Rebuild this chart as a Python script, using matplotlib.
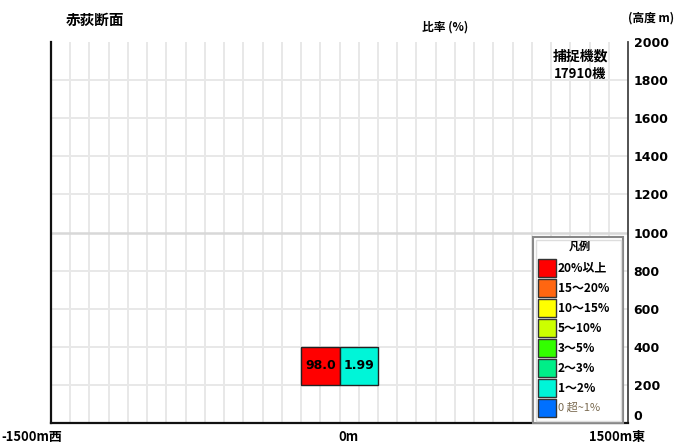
import matplotlib
matplotlib.use("Agg")
import matplotlib.pyplot as plt
from matplotlib.patches import Rectangle

plt.rcParams['font.family'] = ['Noto Sans CJK JP', 'DejaVu Sans']

# ---- data ----
title = "赤荻断面"
bin_x_start = [-200, 0]          # m (west negative)
bin_alt_bottom = [200, 200]      # m
bin_ratio = [98.0, 1.99]         # %
bin_labels = ["98.0", "1.99"]
bin_size_x = 200
bin_size_alt = 200
capture_count = 17910
y_ticks = [0, 200, 400, 600, 800, 1000, 1200, 1400, 1600, 1800, 2000]
x_tick_vals = [-1500, 0, 1500]
x_tick_labels = ["-1500m西", "0m", "1500m東"]
legend_labels = ["20%以上", "15～20%", "10～15%", "5～10%", "3～5%", "2～3%", "1～2%", "0 超~1%"]
legend_thresholds = [20, 15, 10, 5, 3, 2, 1, 0]
legend_colors = ["#FF0000", "#FF6611", "#FFFF00", "#CCFF00", "#33FF00",
                 "#00EE88", "#00F5D8", "#0070FF"]


def color_for(r):
    for t, c in zip(legend_thresholds, legend_colors):
        if r >= t:
            return c
    return legend_colors[-1]


W, H = 687, 445
fig = plt.figure(figsize=(W / 100, H / 100), dpi=100)
L, R, T, B = 51, 628, 42, 423
ax = fig.add_axes([L / W, 1 - B / H, (R - L) / W, (B - T) / H])
ax.set_xlim(-1500, 1500)
ax.set_ylim(0, 2000)

# grid
for x in range(-1400, 1500, 100):
    ax.axvline(x, color="#e8e8e8", lw=1.4, zorder=0)
for y in y_ticks[1:-1]:
    ax.axhline(y, color="#d8d8d8" if y == 1000 else "#e8e8e8",
               lw=1.8 if y == 1000 else 1.4, zorder=0)

ax.spines["top"].set_visible(False)
ax.spines["left"].set_color("#111111")
ax.spines["left"].set_linewidth(1.6)
ax.spines["bottom"].set_color("#111111")
ax.spines["bottom"].set_linewidth(1.6)
ax.spines["right"].set_color("#444444")
ax.spines["right"].set_linewidth(1.3)
ax.set_xticks([])
ax.yaxis.tick_right()
ax.set_yticks(y_ticks)
ax.set_yticklabels([str(v) for v in y_ticks], fontsize=9, fontweight="bold",
                   family=["DejaVu Sans"])
ax.tick_params(axis="y", length=0, pad=4)
ax.get_yticklabels()[0].set_va("bottom")

# bars
for x0, y0, r, lab in zip(bin_x_start, bin_alt_bottom, bin_ratio, bin_labels):
    ax.add_patch(Rectangle((x0, y0), bin_size_x, bin_size_alt,
                           facecolor=color_for(r), edgecolor="#222222", lw=1.0, zorder=3))
    ax.text(x0 + bin_size_x / 2, y0 + bin_size_alt / 2, lab, ha="center", va="center",
            fontsize=9, fontweight="bold", zorder=4, family=["DejaVu Sans"])

# overlay in pixel coordinates
ov = fig.add_axes([0, 0, 1, 1])
ov.set_xlim(0, W)
ov.set_ylim(H, 0)
ov.axis("off")
ov.patch.set_alpha(0)

ov.text(66, 20, title, fontsize=10.5, fontweight="bold", ha="left", va="center")
ov.text(445, 27, "比率 (%)", fontsize=8.5, fontweight="bold", ha="center", va="center")
ov.text(651, 18, "(高度 m)", fontsize=8.5, fontweight="bold", ha="center", va="center")
ov.text(580, 57, "捕捉機数", fontsize=10, fontweight="bold", ha="center", va="center")
ov.text(580, 74, f"{capture_count}機", fontsize=9.5, fontweight="bold", ha="center", va="center")

# x labels
xpix = {-1500: 32, 0: 348, 1500: 617}
for v, lab in zip(x_tick_vals, x_tick_labels):
    ov.text(xpix[v], 437, lab, fontsize=9.3, fontweight="bold", ha="center", va="center")

# legend
ov.add_patch(Rectangle((533, 237), 90, 186, facecolor="white", edgecolor="#888888", lw=1.5, zorder=5))
ov.add_patch(Rectangle((535.5, 239.5), 85, 181, facecolor="none", edgecolor="#dddddd", lw=1.0, zorder=5))
ov.text(580, 246, "凡例", fontsize=8, fontweight="bold", ha="center", va="center", zorder=6)
for i, (lab, c) in enumerate(zip(legend_labels, legend_colors)):
    yc = 268 + 20 * i
    ov.add_patch(Rectangle((538, yc - 9), 18, 18, facecolor=c, edgecolor="#333333", lw=1.0, zorder=6))
    last = i == len(legend_labels) - 1
    ov.text(558, yc, lab, fontsize=8 if last else 8.6, fontweight="normal" if last else "bold",
            color="#7a6a50" if last else "black", ha="left", va="center", zorder=6)

fig.savefig("out.png", dpi=100)
